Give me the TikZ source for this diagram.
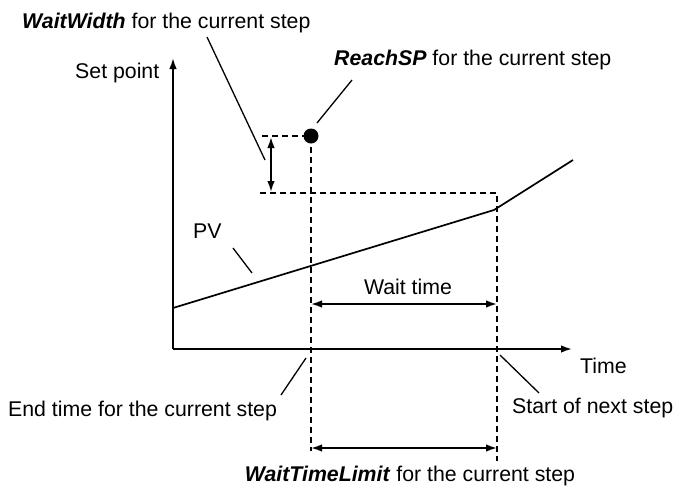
\documentclass[tikz,border=0pt]{standalone}
\usepackage{fontspec}
\setmainfont{Liberation Sans}
\usetikzlibrary{arrows.meta,positioning}
\tikzset{t/.style={font=\fontsize{21.3}{25}\selectfont,inner sep=0pt,anchor=base west},
 ln/.style={line width=1.7pt},
 dl/.style={line width=1.6pt,dash pattern=on 6pt off 4pt},
 ld/.style={line width=1.3pt},
 ar/.style={ln,-{Latex[length=11pt,width=7.5pt]}},
 da/.style={ln,{Latex[length=11pt,width=7.5pt]}-{Latex[length=11pt,width=7.5pt]}}}
\begin{document}
\begin{tikzpicture}[x=1pt,y=-1pt]
\useasboundingbox (0,0) rectangle (673,488);
% axes
\coordinate (o) at (173,349);\coordinate (ytop) at (173,58);\coordinate (xend) at (572,349);
\draw[ar](o)--(ytop);\draw[ar](o)--(xend);
% PV ramp
\coordinate (p0) at (173,308);\coordinate (p1) at (494,210);\coordinate (p2) at (573,160);
\draw[ln](p0)--(p1)--(p2);
% reach point and band
\coordinate (rp) at (311,136);\coordinate (wa) at (262,136);\coordinate (wb) at (260,193);
\coordinate (ca) at (497,193);\coordinate (r0) at (311,451);\coordinate (c0) at (497,461);
\draw[dl](wa)--(rp)--(r0);\draw[dl](wb)--(ca)--(c0);\fill (rp) circle (7.5);
\coordinate (va) at (271,137);\coordinate (vb) at (271,192);\draw[da](va)--(vb);
% wait time and limit
\coordinate (w1) at (311,304);\coordinate (w2) at (497,304);\draw[da](w1)--(w2);
\coordinate (l1) at (311,448);\coordinate (l2) at (497,448);\draw[da](l1)--(l2);
% labels
\node[t](ww) at (22,28){\textbf{\textit{WaitWidth}} for the current step};
\node[t](sp) at (75,78){Set point};
\node[t](rs) at (334,65){\textbf{\textit{ReachSP}} for the current step};
\node[t](pv) at (193,238){PV};
\node[t,anchor=base](wt) at (408,294){Wait time};
\node[t](tm) at (580,373){Time};
\node[t](et) at (8,416){End time for the current step};
\node[t](ns) at (512,413){Start of next step};
\node[t,anchor=base](wl) at (410,481){\textbf{\textit{WaitTimeLimit}} for the current step};
% leaders
\coordinate (a1) at (207,37);\coordinate (a2) at (265,160);\draw[ld](a1)--(a2);
\coordinate (b1) at (317,123);\coordinate (b2) at (352,80);\draw[ld](b1)--(b2);
\coordinate (c1) at (233,248);\coordinate (c2) at (252,273);\draw[ld](c1)--(c2);
\coordinate (d1) at (306,358);\coordinate (d2) at (281,395);\draw[ld](d1)--(d2);
\coordinate (e1) at (500,355);\coordinate (e2) at (539,393);\draw[ld](e1)--(e2);
\end{tikzpicture}
\end{document}
